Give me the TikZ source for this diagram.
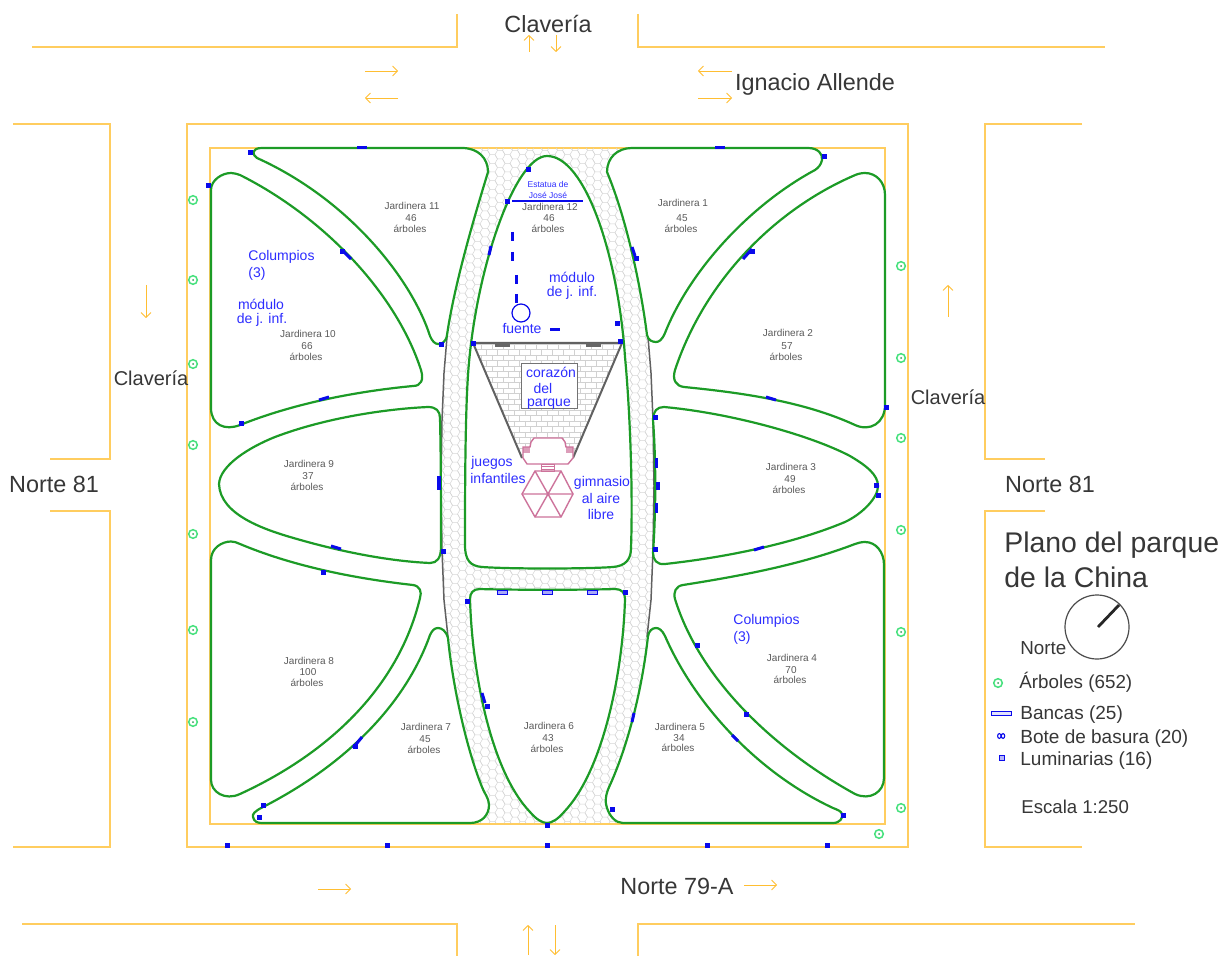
\documentclass[tikz,border=0pt]{standalone}
\usepackage{fontspec}
\setmainfont{Liberation Sans}
\usetikzlibrary{arrows.meta}
\definecolor{street}{RGB}{255,205,95}
\definecolor{flowc}{RGB}{255,190,50}
\definecolor{bedgreen}{RGB}{28,155,38}
\definecolor{treegreen}{RGB}{70,225,125}
\definecolor{markblue}{RGB}{10,10,235}
\definecolor{labelblue}{RGB}{45,45,255}
\definecolor{txt}{RGB}{55,55,55}
\definecolor{lbl}{RGB}{90,90,90}
\definecolor{pinkb}{RGB}{205,115,155}
\tikzset{
  streetline/.style={draw=street,line width=0.75pt},
  flow/.style={draw=flowc,line width=0.45pt,-{Straight Barb[length=2.4pt,width=5pt]}},
  bed/.style={draw=bedgreen,fill=white,line width=1.1pt,line join=round},
  walk/.style={draw=black!62,line width=0.75pt},
  tree/.style={draw=treegreen,line width=0.75pt},
  lum/.style={draw=markblue,fill=markblue,line width=0.3pt},
  pinkline/.style={draw=pinkb,line width=0.7pt},
  big/.style={text=txt,font=\fontsize{11.7pt}{14pt}\selectfont,inner sep=0pt},
  mid/.style={text=txt,font=\fontsize{10pt}{12pt}\selectfont,inner sep=0pt},
  leg/.style={text=txt,font=\fontsize{9.5pt}{12pt}\selectfont,inner sep=0pt,anchor=west},
  small/.style={text=lbl,font=\fontsize{5pt}{6pt}\selectfont,inner sep=0pt},
  bluet/.style={text=labelblue,font=\fontsize{7pt}{8pt}\selectfont,inner sep=0pt},
}
\newcommand{\jard}[7]{%
  \node[small] at (#1,#2) {#3};
  \node[small] at (#1-1,#4) {#5};
  \node[small] at (#1-2,#6) {#7};
}
\newcommand{\treeat}[2]{\draw[tree] (#1,#2) circle[radius=4.3]; \fill[treegreen!70!black] (#1,#2) circle[radius=1];}
\newcommand{\lumat}[2]{\draw[lum] (#1-2,#2-2) rectangle (#1+2,#2+2);}
\newcommand{\benchat}[4]{\draw[markblue,line width=1.5pt] (#1,#2) -- (#3,#4);}
\begin{document}
\begin{tikzpicture}[x=0.5pt,y=-0.5pt]
\useasboundingbox (0,0) rectangle (1219,956);
\fill[white] (0,0) rectangle (1219,956);
% streets
\draw[streetline] (32,47) -- (457,47) -- (457,14);
\draw[streetline] (638,14) -- (638,47) -- (1105,47);
\draw[streetline] (13,124) -- (110,124) -- (110,459) -- (50,459);
\draw[streetline] (50,511) -- (110,511) -- (110,847) -- (13,847);
\draw[streetline] (1082,124) -- (985,124) -- (985,459) -- (1045,459);
\draw[streetline] (1045,511) -- (985,511) -- (985,847) -- (1082,847);
\draw[streetline] (22,924) -- (457,924) -- (457,956);
\draw[streetline] (638,956) -- (638,924) -- (1135,924);
\draw[streetline] (187,124) rectangle (908,847);
\draw[streetline] (210,148) rectangle (885,824);
% paving
\begin{scope}
\clip (473,148) -- (622,148) -- (645,300) -- (648,337) -- (651,373) -- (653,420) -- (654,486) -- (653,550) -- (651,600) -- (647,637) -- (640,700) -- (630,823) -- (465,823) -- (455,700) -- (448,637) -- (444,600) -- (442,550) -- (441,486) -- (442,420) -- (444,373) -- (447,337) -- (450,300) -- cycle;
\foreach \c in {0,...,29}{
  \pgfmathsetmacro{\cx}{440+7.5*\c}
  \pgfmathsetmacro{\off}{mod(\c,2)*4.33}
  \foreach \r in {0,...,78}{
    \pgfmathsetmacro{\cy}{146+8.66*\r+\off}
    \draw[black!16,line width=0.25pt] (\cx-5,\cy) -- (\cx-2.5,\cy-4.33) -- (\cx+2.5,\cy-4.33) -- (\cx+5,\cy) (\cx-5,\cy) -- (\cx-2.5,\cy+4.33);
  }
}
\end{scope}
\draw[walk] (447,337) -- (444,373) -- (442,420) -- (441,486) -- (442,550) -- (444,600) -- (448,637);
\draw[walk] (648,337) -- (651,373) -- (653,420) -- (654,486) -- (653,550) -- (651,600) -- (647,637);
% beds
% 12
\draw[bed] (547,156) .. controls (515,156) and (475,270) .. (468,375) .. controls (465,420) and (465,500) .. (465,545) .. controls (465,560) and (470,566) .. (482,567) .. controls (510,569) and (585,569) .. (613,567) .. controls (625,566) and (631,560) .. (631,548) .. controls (633,490) and (630,410) .. (625,357) .. controls (618,255) and (585,156) .. (547,156) -- cycle;
% 11
\draw[bed] (262,148) -- (462,148) .. controls (478,148) and (488,158) .. (488,172) .. controls (478,205) and (455,280) .. (447,335) .. controls (446,342) and (442,344) .. (438,344) .. controls (435,344) and (432,341) .. (430,336) .. controls (412,280) and (350,200) .. (257,158) .. controls (252,155) and (251,148) .. (262,148) -- cycle;
% 10
\draw[bed] (211,190) .. controls (211,180) and (222,173) .. (231,173) .. controls (234,173) and (237,174) .. (240,175) .. controls (320,215) and (395,290) .. (421,370) .. controls (424,380) and (421,386) .. (413,386) .. controls (350,392) and (290,405) .. (240,425) .. controls (225,431) and (211,425) .. (211,408) -- cycle;
% 9
\draw[bed] (219,484) .. controls (220,465) and (250,447) .. (275,437) .. controls (325,418) and (385,409) .. (428,407) .. controls (436,407) and (440,411) .. (440,418) .. controls (441,460) and (441,510) .. (441,547) .. controls (441,558) and (437,563) .. (430,563) .. controls (385,561) and (335,550) .. (297,539) .. controls (265,530) and (220,515) .. (219,484) -- cycle;
% 8
\draw[bed] (211,560) .. controls (211,548) and (222,541.5) .. (231,541.5) .. controls (234,541.5) and (237,542.5) .. (240,544) .. controls (290,565) and (350,578) .. (413,585) .. controls (420,586) and (422,592) .. (420,598) .. controls (398,690) and (325,755) .. (240,794) .. controls (225,801) and (211,792) .. (211,780) -- cycle;
% 7
\draw[bed] (262,823) -- (470,823) .. controls (482,823) and (489,815) .. (489,805) .. controls (489,798) and (484,793) .. (482,787) .. controls (465,745) and (452,680) .. (448,638) .. controls (446,631) and (442,628) .. (438,628) .. controls (434,628) and (432,631) .. (430,635) .. controls (405,705) and (345,765) .. (263,807) .. controls (255,811) and (252,814) .. (253,817) .. controls (254,822) and (258,823) .. (262,823) -- cycle;
% 6
\draw[bed] (480,589) .. controls (473,589) and (470,593) .. (470,599) .. controls (472,670) and (490,770) .. (530,812) .. controls (536,819) and (542,823) .. (547,823) .. controls (552,823) and (558,819) .. (564,812) .. controls (604,770) and (623,670) .. (625,599) .. controls (625,593) and (622,589) .. (615,589) .. controls (590,590) and (505,590) .. (480,589) -- cycle;
% 1
\draw[bed] (607,172) .. controls (607,158) and (617,148) .. (632,148) -- (808,148) .. controls (818,148) and (823,154) .. (822,160) .. controls (821,165) and (818,168) .. (815,170) .. controls (750,205) and (690,270) .. (665,333) .. controls (662,340) and (659,342) .. (656,342) .. controls (652,342) and (648,340) .. (647,335) .. controls (640,280) and (625,215) .. (607,172) -- cycle;
% 2
\draw[bed] (885,195) .. controls (885,182) and (876,173) .. (865,173) .. controls (861,173) and (857,174) .. (853,176) .. controls (775,210) and (705,280) .. (675,370) .. controls (672,380) and (676,386) .. (684,387) .. controls (745,393) and (805,402) .. (855,425) .. controls (870,432) and (885,423) .. (885,405) -- cycle;
% 3
\draw[bed] (653,420) .. controls (653,411) and (657,407) .. (664,407) .. controls (730,413) and (810,435) .. (850,456) .. controls (867,466) and (878,475) .. (878,486) .. controls (878,498) and (862,514) .. (845,522) .. controls (790,545) and (720,558) .. (665,564) .. controls (657,565) and (653,560) .. (653,553) .. controls (656,510) and (656,460) .. (653,420) -- cycle;
% 4
\draw[bed] (884,565) .. controls (884,552) and (876,542) .. (865,542) .. controls (861,542) and (858,543) .. (855,544) .. controls (800,565) and (740,576) .. (683,585) .. controls (676,586) and (673,592) .. (675,599) .. controls (700,680) and (775,750) .. (855,794) .. controls (870,801) and (884,792) .. (884,778) -- cycle;
% 5
\draw[bed] (623,823) -- (833,823) .. controls (840,823) and (843,818) .. (842,814) .. controls (841,811) and (838,810) .. (833,808) .. controls (758,773) and (695,705) .. (665,636) .. controls (662,630) and (659,628) .. (656,628) .. controls (652,628) and (649,631) .. (648,636) .. controls (642,690) and (628,745) .. (610,785) .. controls (605,795) and (605,803) .. (607,808) .. controls (610,817) and (616,823) .. (623,823) -- cycle;
% heart of the park
\begin{scope}
\clip (473,343) -- (622,343) -- (573,458) -- (522,458) -- cycle;
\foreach \r in {0,...,21}{
  \pgfmathsetmacro{\ry}{344+5.5*\r}
  \pgfmathsetmacro{\ro}{mod(\r,2)*5.5}
  \draw[black!18,line width=0.25pt] (470,\ry) -- (625,\ry);
  \foreach \k in {0,...,14}{
    \draw[black!18,line width=0.25pt] (470+\k*11+\ro,\ry) -- (470+\k*11+\ro,\ry+5.5);
  }
}
\end{scope}
\draw[walk,line width=1pt,line join=round] (522,458) -- (473,343) -- (622,343) -- (573,458);
\fill[black!60] (495,343) rectangle (510,347);
\fill[black!60] (586,343) rectangle (601,347);
\draw[black!55,fill=white,line width=0.5pt] (521,364) rectangle (577,409);
% building and hexagon
\fill[white] (523,458) -- (523,447) -- (530,447) -- (531,442) -- (534,438) -- (562,438) -- (565,442) -- (566,447) -- (573,447) -- (573,458) -- (568,464) -- (527,464) -- cycle;
\fill[pinkb!70] (523,447) rectangle (530,453);
\fill[pinkb!70] (566,447) rectangle (573,453);
\draw[pinkline] (523,458) -- (523,447) -- (530,447) -- (531,442) -- (534,438) -- (562,438) -- (565,442) -- (566,447) -- (573,447) -- (573,458) -- (568,464) -- (527,464) -- cycle;
\draw[pinkline,line width=0.4pt] (541,464) rectangle (554,471) (541,466.5) -- (554,466.5) (541,469) -- (554,469);
\draw[pinkline] (535,471) -- (561,471) -- (573,494) -- (561,517) -- (535,517) -- (522,494) -- cycle;
\draw[pinkline] (522,494) -- (573,494) (535,471) -- (561,517) (561,471) -- (535,517);
% fountain
\draw[markblue,line width=0.6pt] (521,313) circle[radius=9];
\draw[markblue,line width=0.6pt] (512,201) -- (583,201);
% arrows
\draw[flow] (529,52) -- (529,35);
\draw[flow] (556,35) -- (556,52);
\draw[flow] (365,71) -- (398,71);
\draw[flow] (398,98) -- (365,98);
\draw[flow] (732,71) -- (698,71);
\draw[flow] (698,98) -- (732,98);
\draw[flow] (146,285) -- (146,318);
\draw[flow] (948,317) -- (948,285);
\draw[flow] (318,889) -- (351,889);
\draw[flow] (744,885) -- (777,885);
\draw[flow] (528,955) -- (528,925);
\draw[flow] (555,925) -- (555,955);
% trees
\foreach \tx/\ty in {193/200,193/280,193/364,193/445,193/534,193/630,193/722,901/266,901/358,901/438,901/530,901/632,901/808,879/834,998/683}{\treeat{\tx}{\ty}}
% lights
\foreach \lx/\ly in {250/152,208/185,441/344,241/423,323/572,443/551,467/601,227/845,387/845,547/845,707/845,827/845,547/825,507/201,528/169,617/323,620/341,473/343,655/417,655/549,886/407,876/485,878/495,843/815,824/156,263/805,259/817,697/645,746/714,612/809,625/592,487/706,636/258,342/251,355/746,752/251}{\lumat{\lx}{\ly}}
\draw[lum] (656,482) rectangle (659,489);
\draw[lum] (437,476) rectangle (440,489);
% benches
\benchat{357}{148}{367}{148}\benchat{715}{148}{725}{148}
\benchat{319}{400}{329}{397}\benchat{331}{546}{341}{549}
\benchat{766}{397}{776}{400}\benchat{754}{550}{764}{547}
\benchat{342}{250}{351}{259}\benchat{353}{748}{362}{737}
\benchat{743}{259}{752}{249}\benchat{732}{735}{738}{741}
\benchat{632}{247}{635}{256}\benchat{482}{693}{485}{703}
\benchat{634}{713}{632}{722}\benchat{491}{246}{489}{255}
\benchat{656}{458}{656}{468}\benchat{656}{503}{656}{513}
\benchat{512}{232}{512}{241}\benchat{512}{252}{512}{261}
\benchat{516.5}{275}{516.5}{284}\benchat{516.5}{294}{516.5}{303}
\benchat{550}{330}{560}{330}
\foreach \bx in {502,547,592}{\draw[markblue,fill=markblue!35,line width=0.4pt] (\bx-5,590.5) rectangle (\bx+5,594);}
% street labels
\node[big] at (548,24) {Clavería};
\node[big] at (815,84) {Ignacio Allende};
\node[big] at (54,484) {Norte 81};
\node[big] at (1050,484) {Norte 81};
\node[big] at (677,886) {Norte 79-A};
\node[mid] at (151,378) {Clavería};
\node[mid] at (948,397) {Clavería};
% beds' labels
\jard{412}{206}{Jardinera 11}{218}{46}{229}{árboles}
\jard{308}{334}{Jardinera 10}{346}{66}{357}{árboles}
\jard{309}{464}{Jardinera 9}{476}{37}{487}{árboles}
\jard{309}{661}{Jardinera 8}{672}{100}{683}{árboles}
\jard{426}{727}{Jardinera 7}{739}{45}{750}{árboles}
\jard{549}{726}{Jardinera 6}{738}{43}{749}{árboles}
\jard{680}{727}{Jardinera 5}{738}{34}{748}{árboles}
\jard{792}{658}{Jardinera 4}{670}{70}{680}{árboles}
\jard{791}{467}{Jardinera 3}{479}{49}{490}{árboles}
\jard{788}{333}{Jardinera 2}{346}{57}{357}{árboles}
\jard{683}{203}{Jardinera 1}{218}{45}{229}{árboles}
\jard{550}{207}{Jardinera 12}{218}{46}{229}{árboles}
% blue labels
\node[bluet,anchor=west] at (248,257) {Columpios};
\node[bluet,anchor=west] at (248,274) {(3)};
\node[bluet] at (261,304) {módulo};
\node[bluet] at (262,320) {de j. inf.};
\node[bluet] at (572,277) {módulo};
\node[bluet] at (572,293) {de j. inf.};
\node[bluet] at (522,329) {fuente};
\node[bluet] at (551,372) {corazón};
\node[bluet] at (543,388) {del};
\node[bluet] at (549,404) {parque};
\node[bluet] at (492,463) {juegos};
\node[bluet] at (498,478) {infantiles};
\node[bluet] at (602,483) {gimnasio};
\node[bluet] at (601,498) {al aire};
\node[bluet] at (601,514) {libre};
\node[bluet,anchor=west] at (733,621) {Columpios};
\node[bluet,anchor=west] at (733,638) {(3)};
\node[text=labelblue,font=\fontsize{4.25pt}{5pt}\selectfont,inner sep=0pt] at (548,184) {Estatua de};
\node[text=labelblue,font=\fontsize{4.25pt}{5pt}\selectfont,inner sep=0pt] at (548,195) {José José};
% legend
\node[text=txt,font=\fontsize{14.2pt}{17pt}\selectfont,inner sep=0pt,anchor=west] at (1004,545) {Plano del parque};
\node[text=txt,font=\fontsize{14.2pt}{17pt}\selectfont,inner sep=0pt,anchor=west] at (1004,577) {de la China};
\draw[black!70,line width=0.6pt] (1097,627) circle[radius=32];
\draw[black!85,line width=1.4pt] (1098,627) -- (1119,605);
\node[leg,font=\fontsize{9.4pt}{11pt}\selectfont] at (1020,648) {Norte};
\node[leg,font=\fontsize{9.4pt}{11pt}\selectfont] at (1019,682) {Árboles (652)};
\draw[markblue,fill=markblue!12,line width=0.5pt] (991,711) rectangle (1011,715);
\node[leg] at (1020,715) {Bancas (25)};
\draw[markblue,line width=0.55pt] (999.3,736) ellipse[x radius=1.7,y radius=2.4] (1003,736) ellipse[x radius=1.7,y radius=2.4];
\node[leg] at (1020,739) {Bote de basura (20)};
\node[leg] at (1020,761) {Luminarias (16)};
\draw[markblue,fill=markblue!30,line width=0.9pt] (999.5,755.5) rectangle (1004.5,760.5);
\node[leg,font=\fontsize{9.3pt}{12pt}\selectfont] at (1021,807) {Escala 1:250};
\end{tikzpicture}
\end{document}
